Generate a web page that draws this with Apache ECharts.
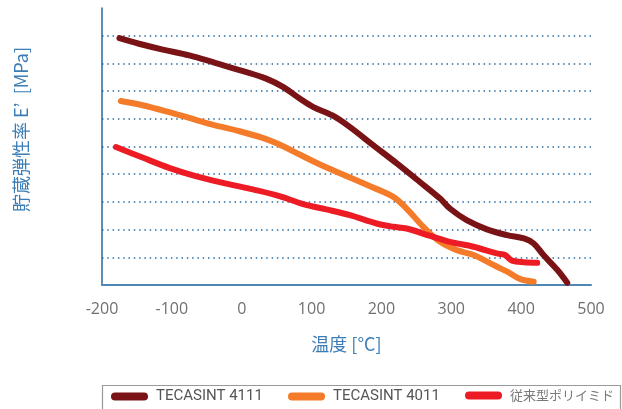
<!DOCTYPE html>
<html>
<head>
<meta charset="utf-8">
<script src="https://cdn.jsdelivr.net/npm/echarts@6/dist/echarts.min.js"></script>
<style>
html,body{margin:0;padding:0;background:#fff;}
#main{width:622px;height:409px;}
</style>
</head>
<body>
<div id="main"></div>
<script>
// Data
const seriesNames = ['TECASINT 4111', 'TECASINT 4011', '従来型ポリイミド'];
const xTickLabels = ['-200', '-100', '0', '100', '200', '300', '400', '500'];

const temp4111 = [-175, -147, -113, -75, -37, 2, 35, 59, 83, 102, 130, 155, 188, 222, 255, 284, 298, 322, 351, 380, 404, 418, 432, 452, 466];
const mod4111  = [8.91, 8.71, 8.50, 8.29, 8.01, 7.72, 7.45, 7.15, 6.73, 6.43, 6.12, 5.70, 5.05, 4.39, 3.72, 3.12, 2.76, 2.34, 2.01, 1.80, 1.68, 1.50, 1.08, 0.54, 0.08];

const temp4011 = [-173, -142, -108, -75, -42, -3, 30, 54, 83, 112, 155, 188, 217, 236, 260, 284, 308, 332, 356, 380, 399, 418];
const mod4011  = [6.64, 6.49, 6.27, 6.03, 5.79, 5.55, 5.31, 5.07, 4.71, 4.35, 3.88, 3.52, 3.18, 2.76, 2.10, 1.56, 1.26, 1.08, 0.78, 0.48, 0.21, 0.12];

const tempPI = [-180, -142, -104, -66, -22, 16, 54, 88, 121, 155, 193, 217, 236, 270, 298, 332, 365, 377, 387, 404, 423];
const modPI  = [4.98, 4.60, 4.23, 3.93, 3.66, 3.45, 3.21, 2.92, 2.73, 2.52, 2.22, 2.10, 2.04, 1.77, 1.56, 1.38, 1.14, 1.08, 0.88, 0.82, 0.80];

const colors = ['#7a1315', '#f47b29', '#ed1c24'];
const zip = (xs, ys) => xs.map((x, i) => [x, ys[i]]);
const capsule = 'path://M4,0 H33 A4,4 0 0 1 33,8 H4 A4,4 0 0 1 4,0 Z';

const chart = echarts.init(document.getElementById('main'), null, {renderer: 'canvas'});

function mkSeries(name, data, color) {
  return {
    name: name, type: 'line', data: data, smooth: 0.35,
    showSymbol: false, symbol: 'none',
    lineStyle: {color: color, width: 6, cap: 'round', join: 'round'},
    itemStyle: {color: color}
  };
}

function mkLegend(name, left, textColor, fontSize, fontFamily) {
  return {
    data: [{name: name, icon: capsule}],
    left: left, top: 389, width: 200,
    itemWidth: 37, itemHeight: 8, itemGap: 0,
    padding: 0,
    textStyle: {color: textColor, fontSize: fontSize, fontFamily: fontFamily, padding: [0, 0, 0, 3]}
  };
}

chart.setOption({
  animation: false,
  backgroundColor: '#fff',
  grid: {left: 102, right: 31, top: 8, bottom: 124, containLabel: false},
  xAxis: {
    type: 'value', min: -200, max: 500, interval: 100,
    name: '温度 [°C]', nameLocation: 'middle', nameGap: 50,
    nameTextStyle: {color: '#3b7db4', fontSize: 18, fontFamily: 'Noto Sans CJK JP'},
    axisLine: {show: true, onZero: false, lineStyle: {color: '#4f86b3', width: 2}},
    axisTick: {show: false},
    splitLine: {show: false},
    axisLabel: {
      color: '#707070', fontSize: 16, fontFamily: 'Open Sans', margin: 16,
      formatter: function (v) { return xTickLabels[Math.round((v + 200) / 100)]; }
    }
  },
  yAxis: {
    type: 'value', min: 0, max: 10, interval: 1,
    name: '貯蔵弾性率 E’  [MPa]', nameLocation: 'middle', nameGap: 72,
    nameTextStyle: {color: '#3b7db4', fontSize: 18, fontFamily: 'Noto Sans CJK JP', padding: [0, 0, 0, 34]},
    axisLine: {show: true, onZero: false, lineStyle: {color: '#2568a0', width: 1.5}},
    axisTick: {show: false},
    axisLabel: {show: false},
    splitLine: {
      show: true, showMinLine: false, showMaxLine: false,
      lineStyle: {color: '#2a6ca0', width: 1.5, type: [1.5, 3.8]}
    }
  },
  legend: [
    mkLegend(seriesNames[0], 111, '#555', 15, 'Roboto'),
    mkLegend(seriesNames[1], 288, '#555', 15, 'Roboto'),
    mkLegend(seriesNames[2], 465, '#7a7a7a', 13, 'Noto Sans CJK JP')
  ],
  graphic: [{
    type: 'rect', silent: true, z: -1,
    shape: {x: 102.5, y: 385.5, width: 518, height: 40},
    style: {fill: 'none', stroke: '#999', lineWidth: 1.2}
  }],
  series: [
    mkSeries(seriesNames[0], zip(temp4111, mod4111), colors[0]),
    mkSeries(seriesNames[1], zip(temp4011, mod4011), colors[1]),
    mkSeries(seriesNames[2], zip(tempPI, modPI), colors[2])
  ]
});
</script>
</body>
</html>
